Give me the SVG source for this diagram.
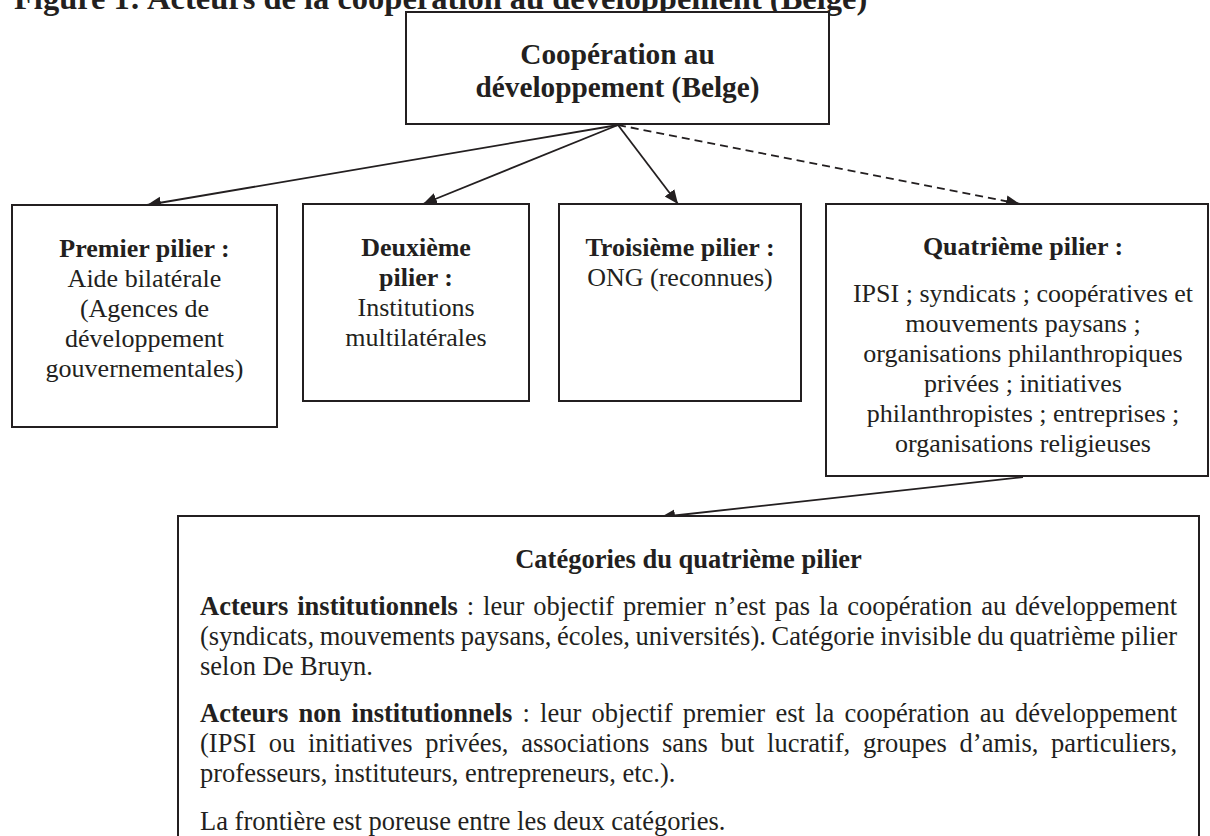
<svg xmlns="http://www.w3.org/2000/svg" width="1210" height="836" viewBox="0 0 1210 836">
<defs>
<style>
.t{font-family:"Liberation Serif","Times New Roman",serif;fill:#231f20}
.b{font-weight:bold}
.c{text-anchor:middle}
.p{font-size:26px}
.q{font-size:26.5px}
.box{fill:#fff;stroke:#231f20;stroke-width:2}
.ln{fill:none;stroke:#231f20;stroke-width:1.8}
.dash{stroke-dasharray:8 5}
</style>
<marker id="ah" markerUnits="userSpaceOnUse" markerWidth="15" markerHeight="13" refX="14" refY="6" orient="auto">
<path d="M0,0 L14,6 L0,12 Z" fill="#231f20"/>
</marker>
</defs>
<rect width="1210" height="836" fill="#fff"/>
<text class="t b" x="14" y="9" font-size="32.5">Figure 1: Acteurs de la coopération au développement (Belge)</text>

<g id="connectors">
<line class="ln" x1="618" y1="125" x2="147" y2="205" marker-end="url(#ah)"/>
<line class="ln" x1="618" y1="125" x2="423" y2="204" marker-end="url(#ah)"/>
<line class="ln" x1="618" y1="125" x2="678" y2="204" marker-end="url(#ah)"/>
<line class="ln dash" x1="618" y1="125" x2="1020" y2="204" marker-end="url(#ah)"/>
<line class="ln" x1="1023" y1="477" x2="661" y2="517" marker-end="url(#ah)"/>
</g>

<g id="root">
<rect class="box" x="406" y="12" width="423" height="112"/>
<text class="t b c" x="617.5" y="64" font-size="29.3">Coopération au</text>
<text class="t b c" x="617.5" y="97" font-size="29.3">développement (Belge)</text>
</g>

<g id="pilier1">
<rect class="box" x="12" y="205" width="265" height="222"/>
<text class="t p c" x="144.5"><tspan class="b" x="144.5" y="257">Premier pilier :</tspan><tspan x="144.5" y="287">Aide bilatérale</tspan><tspan x="144.5" y="317">(Agences de</tspan><tspan x="144.5" y="347">développement</tspan><tspan x="144.5" y="377">gouvernementales)</tspan></text>
</g>

<g id="pilier2">
<rect class="box" x="303" y="204" width="226" height="197"/>
<text class="t p c" x="416"><tspan class="b" x="416" y="256">Deuxième</tspan><tspan class="b" x="416" y="286">pilier :</tspan><tspan x="416" y="316">Institutions</tspan><tspan x="416" y="346">multilatérales</tspan></text>
</g>

<g id="pilier3">
<rect class="box" x="559" y="204" width="242" height="197"/>
<text class="t p c" x="680"><tspan class="b" x="680" y="256">Troisième pilier :</tspan><tspan x="680" y="286">ONG (reconnues)</tspan></text>
</g>

<g id="pilier4">
<rect class="box" x="826" y="204" width="382" height="272"/>
<text class="t p c b" x="1023" y="255">Quatrième pilier :</text>
<text class="t p c" x="1023"><tspan x="1023" y="302">IPSI ; syndicats ; coopératives et</tspan><tspan x="1023" y="332">mouvements paysans ;</tspan><tspan x="1023" y="362">organisations philanthropiques</tspan><tspan x="1023" y="392">privées ; initiatives</tspan><tspan x="1023" y="422">philanthropistes ; entreprises ;</tspan><tspan x="1023" y="452">organisations religieuses</tspan></text>
</g>

<g id="categories">
<rect class="box" x="178" y="516" width="1021" height="340"/>
<text class="t q b c" x="688.5" y="568">Catégories du quatrième pilier</text>
<text class="t q" x="200" y="615" word-spacing="2.3" textLength="977" lengthAdjust="spacing"><tspan class="b">Acteurs institutionnels</tspan> : leur objectif premier n’est pas la coopération au développement</text>
<text class="t q" x="200" y="645" word-spacing="-0.9" textLength="977" lengthAdjust="spacing">(syndicats, mouvements paysans, écoles, universités). Catégorie invisible du quatrième pilier</text>
<text class="t q" x="200" y="675">selon De Bruyn.</text>
<text class="t q" x="200" y="722" word-spacing="3.6" textLength="977" lengthAdjust="spacing"><tspan class="b">Acteurs non institutionnels</tspan> : leur objectif premier est la coopération au développement</text>
<text class="t q" x="200" y="752" word-spacing="6.1" textLength="977" lengthAdjust="spacing">(IPSI ou initiatives privées, associations sans but lucratif, groupes d’amis, particuliers,</text>
<text class="t q" x="200" y="782">professeurs, instituteurs, entrepreneurs, etc.).</text>
<text class="t q" x="200" y="830">La frontière est poreuse entre les deux catégories.</text>
</g>
</svg>
